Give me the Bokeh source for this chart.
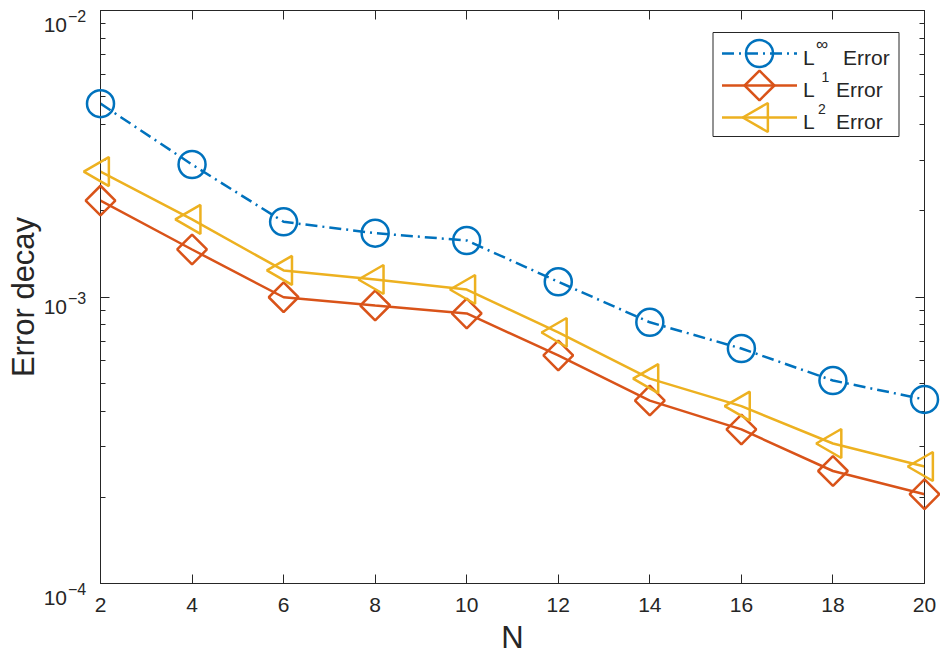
import numpy as np
from bokeh.plotting import figure
from bokeh.models import LogAxis, LinearAxis, FixedTicker, Range1d, LinearScale
from bokeh.core.properties import value
from bokeh.embed import file_html
from bokeh.resources import INLINE

# ---------------- data ----------------
N = [2, 4, 6, 8, 10, 12, 14, 16, 18, 20]
err_inf = [4.73e-3, 2.90e-3, 1.83e-3, 1.67e-3, 1.575e-3, 1.13e-3, 8.16e-4, 6.61e-4, 5.11e-4, 4.39e-4]
err_l1 = [2.17e-3, 1.465e-3, 9.98e-4, 9.34e-4, 8.76e-4, 6.25e-4, 4.35e-4, 3.45e-4, 2.47e-4, 2.05e-4]
err_l2 = [2.74e-3, 1.865e-3, 1.238e-3, 1.151e-3, 1.062e-3, 7.52e-4, 5.19e-4, 4.16e-4, 3.08e-4, 2.56e-4]
legend_base = ["L", "L", "L"]
legend_sup = ["\u221e", "1", "2"]
legend_word = ["Error", "Error", "Error"]
y_decades = [1e-4, 1e-3, 1e-2]
y_mantissa = ["10", "10", "10"]
y_exponents = ["\u22124", "\u22123", "\u22122"]
x_ticks = N

# ---------------- style / layout ----------------
FONT = "Liberation Sans"
AX = "#262626"
BLUE, ORANGE, YELLOW = "#0072BD", "#D95319", "#EDB120"
W, H = 940, 657
BL, BR, BT, BB = 100, 16, 10, 74
FW, FH = W - BL - BR, H - BT - BB          # frame size in px

p = figure(width=W, height=H, y_axis_type="log",
           x_range=Range1d(N[0], N[-1]), y_range=Range1d(y_decades[0], y_decades[-1]),
           output_backend="svg", toolbar_location=None,
           min_border_left=BL, min_border_right=BR,
           min_border_top=BT, min_border_bottom=BB)
p.grid.visible = False
p.outline_line_color = AX
p.background_fill_color = "white"
p.extra_x_ranges = {"px": Range1d(0, FW)}
p.extra_y_ranges = {"px": Range1d(0, FH)}
p.extra_x_scales = {"px": LinearScale()}
p.extra_y_scales = {"px": LinearScale()}

minor_y = [m * d for d in y_decades[:-1] for m in range(2, 10)]
yt = FixedTicker(ticks=y_decades, minor_ticks=minor_y)
xt = FixedTicker(ticks=x_ticks)


def style_axis(ax, labels_on):
    ax.axis_line_color = AX
    ax.major_tick_line_color = AX
    ax.minor_tick_line_color = AX
    ax.major_tick_in = 9
    ax.major_tick_out = 0
    ax.minor_tick_in = 5
    ax.minor_tick_out = 0
    ax.major_label_text_font = FONT
    ax.major_label_text_color = AX
    ax.axis_label_text_font = FONT
    ax.axis_label_text_font_style = "normal"
    ax.axis_label_text_color = AX
    if not labels_on:
        ax.major_label_text_font_size = "1px"
        ax.major_label_text_color = None
        ax.major_label_standoff = 0


xa = p.xaxis[0]
xa.ticker = xt
style_axis(xa, True)
xa.minor_tick_line_color = None
xa.major_label_text_font_size = "21px"
xa.major_label_standoff = 14
xa.axis_label = "N"
xa.axis_label_text_font_size = "31px"
xa.axis_label_standoff = 5

ya = p.yaxis[0]
ya.ticker = yt
style_axis(ya, False)
ya.axis_label = "Error decay"
ya.axis_label_text_font_size = "31px"
ya.axis_label_standoff = 60

top = LinearAxis(ticker=xt)
style_axis(top, False)
top.minor_tick_line_color = None
p.add_layout(top, "above")
right = LogAxis(ticker=yt)
style_axis(right, False)
p.add_layout(right, "right")

# y tick labels: "10" with raised exponent
base_dy = [14, 9.5, 14]
p.text(x=[N[0]] * 3, y=y_decades, text=y_mantissa, x_offset=-33.5, y_offset=base_dy,
       text_align="right", text_baseline="alphabetic", text_font=value(FONT),
       text_font_size="21px", text_color=AX, level="overlay")
p.text(x=[N[0]] * 3, y=y_decades, text=y_exponents, x_offset=-32.5,
       y_offset=[d - 9 for d in base_dy],
       text_align="left", text_baseline="alphabetic", text_font=value(FONT),
       text_font_size="16px", text_color=AX, level="overlay")

# ---------------- series ----------------
LW = 2.5
DASH = "12 5 2 5"
series = [
    (err_inf, BLUE, DASH, dict(marker="circle", size=27, angle=0.0)),
    (err_l1, ORANGE, "solid", dict(marker="square", size=21, angle=np.pi / 4)),
    (err_l2, YELLOW, "solid", dict(marker="triangle", size=29, angle=np.pi / 2)),
]
for ys, col, dash, mk in series:
    p.line(N, ys, line_color=col, line_width=LW, line_dash=dash)
for ys, col, dash, mk in series:
    p.scatter(N, ys, line_color=col, line_width=LW, fill_color=None,
              level="overlay", **mk)

# ---------------- legend (frame pixel coordinates) ----------------
LEG_L, LEG_R, LEG_B, LEG_T = 612.5, 798.5, 447, 551
row_y = [530, 498, 466]
line_x0, line_x1, mark_x = 621.5, 696.5, 659
txt_L_x = 702.5
sup_x = [715.5, 721, 717.5]
sup_size = ["17px", "14px", "14px"]
word_x = [742.5, 735.5, 735.5]
kw = dict(x_range_name="px", y_range_name="px", level="overlay")

p.quad(left=[LEG_L], right=[LEG_R], bottom=[LEG_B], top=[LEG_T],
       fill_color="white", line_color=AX, line_width=1, **kw)
for (ys, col, dash, mk), ry in zip(series, row_y):
    p.segment(x0=[line_x0], y0=[ry], x1=[line_x1], y1=[ry], line_color=col,
              line_width=LW, line_dash=dash, **kw)
    p.scatter(x=[mark_x], y=[ry], line_color=col, line_width=LW, fill_color=None,
              **mk, **kw)
base_y = [r - 4 for r in row_y]
p.text(x=[txt_L_x] * 3, y=base_y, text=legend_base, text_align="left",
       text_baseline="alphabetic", text_font=value(FONT), text_font_size="21px",
       text_color=AX, **kw)
p.text(x=sup_x, y=[b + 13 for b in base_y], text=legend_sup, text_align="left",
       text_baseline="alphabetic", text_font=value(FONT), text_font_size=sup_size,
       text_color=AX, **kw)
p.text(x=word_x, y=base_y, text=legend_word, text_align="left",
       text_baseline="alphabetic", text_font=value(FONT), text_font_size="21px",
       text_color=AX, **kw)

open("out.html", "w").write(file_html(p, INLINE))
